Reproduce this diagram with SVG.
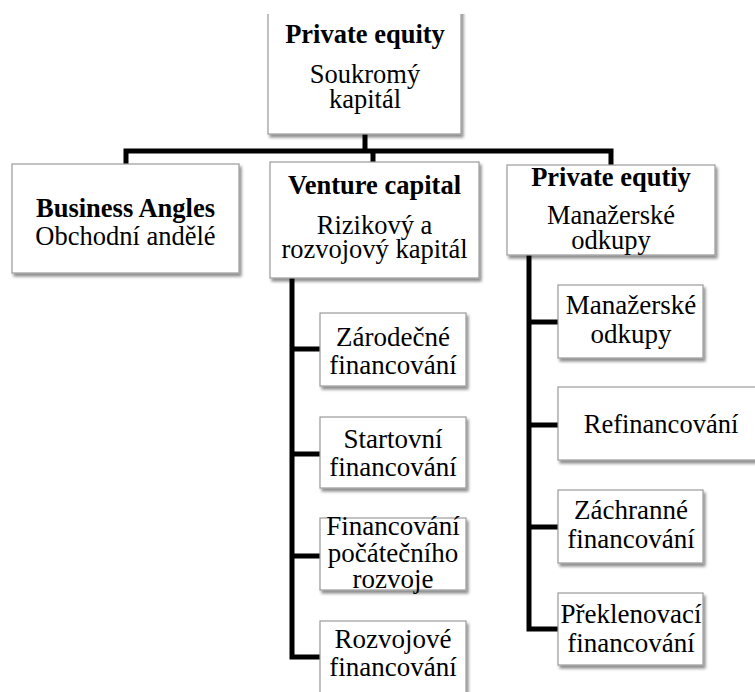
<svg xmlns="http://www.w3.org/2000/svg" width="755" height="692" viewBox="0 0 755 692">
<defs>
<filter id="sh" x="-10%" y="-10%" width="130%" height="130%">
<feGaussianBlur in="SourceAlpha" stdDeviation="1.5"/>
<feOffset dx="2" dy="3" result="b"/>
<feComponentTransfer><feFuncA type="linear" slope="0.45"/></feComponentTransfer>
<feMerge><feMergeNode/><feMergeNode in="SourceGraphic"/></feMerge>
</filter>
<clipPath id="topclip"><rect x="0" y="14" width="755" height="678"/></clipPath>
</defs>
<style>
.box{fill:#fff;stroke:#9a9a9a;stroke-width:1.2;filter:url(#sh)}
text{font-family:"Liberation Serif","Times New Roman",serif;fill:#000;text-anchor:middle}
.t{font-weight:bold;font-size:26.5px}
.s{font-size:26.5px}
.c{font-size:27px}
.ln{fill:none;stroke:#000;stroke-width:5;stroke-linejoin:miter;stroke-linecap:butt}
</style>
<rect width="755" height="692" fill="#fff"/>
<g id="connectors">
<path class="ln" d="M365,134 V151"/>
<path class="ln" d="M126,164 V151 H611 V165"/>
<path class="ln" d="M373,151 V162"/>
<path class="ln" d="M292,278 V657 H320"/>
<path class="ln" d="M292,349 H320 M292,454 H320 M292,556 H320"/>
<path class="ln" d="M529,255 V629 H558"/>
<path class="ln" d="M529,322 H558 M529,425 H558 M529,527 H558"/>
</g>
<g id="n-root" clip-path="url(#topclip)">
<rect class="box" x="268" y="-10" width="193" height="144"/>
<text class="t" x="365" y="43">Private equity</text>
<text class="s" x="365" y="83">Soukromý</text>
<text class="s" x="365" y="108">kapitál</text>
</g>
<g id="n-ba">
<rect class="box" x="12" y="164" width="227" height="109"/>
<text class="t" x="125.5" y="217">Business Angles</text>
<text class="s" x="125.5" y="245">Obchodní andělé</text>
</g>
<g id="n-vc">
<rect class="box" x="270" y="162" width="209" height="116"/>
<text class="t" x="374.5" y="194">Venture capital</text>
<text class="s" x="374.5" y="234">Rizikový a</text>
<text class="s" x="374.5" y="258">rozvojový kapitál</text>
</g>
<g id="n-pe">
<rect class="box" x="507" y="165" width="208" height="90"/>
<text class="t" x="611" y="186">Private equtiy</text>
<text class="s" x="611" y="224">Manažerské</text>
<text class="s" x="611" y="249">odkupy</text>
</g>
<g id="n-vc1">
<rect class="box" x="320" y="313" width="146" height="73"/>
<text class="c" x="393" y="346">Zárodečné</text>
<text class="c" x="393" y="374">financování</text>
</g>
<g id="n-vc2">
<rect class="box" x="320" y="417" width="146" height="71"/>
<text class="c" x="393" y="448">Startovní</text>
<text class="c" x="393" y="476">financování</text>
</g>
<g id="n-vc3">
<rect class="box" x="320" y="518" width="146" height="72"/>
<text class="c" x="393" y="535">Financování</text>
<text class="c" x="393" y="562">počátečního</text>
<text class="c" x="393" y="588">rozvoje</text>
</g>
<g id="n-vc4">
<rect class="box" x="320" y="621" width="146" height="80"/>
<text class="c" x="393" y="648">Rozvojové</text>
<text class="c" x="393" y="676">financování</text>
</g>
<g id="n-pe1">
<rect class="box" x="558" y="285" width="145" height="73"/>
<text class="c" x="631" y="314">Manažerské</text>
<text class="c" x="631" y="343">odkupy</text>
</g>
<g id="n-pe2">
<rect class="box" x="558" y="387" width="206" height="73"/>
<text class="s" x="661" y="433">Refinancování</text>
</g>
<g id="n-pe3">
<rect class="box" x="558" y="490" width="145" height="73"/>
<text class="c" x="631" y="519">Záchranné</text>
<text class="c" x="631" y="548">financování</text>
</g>
<g id="n-pe4">
<rect class="box" x="558" y="593" width="145" height="72"/>
<text class="c" x="631" y="623">Překlenovací</text>
<text class="c" x="631" y="652">financování</text>
</g>
</svg>
